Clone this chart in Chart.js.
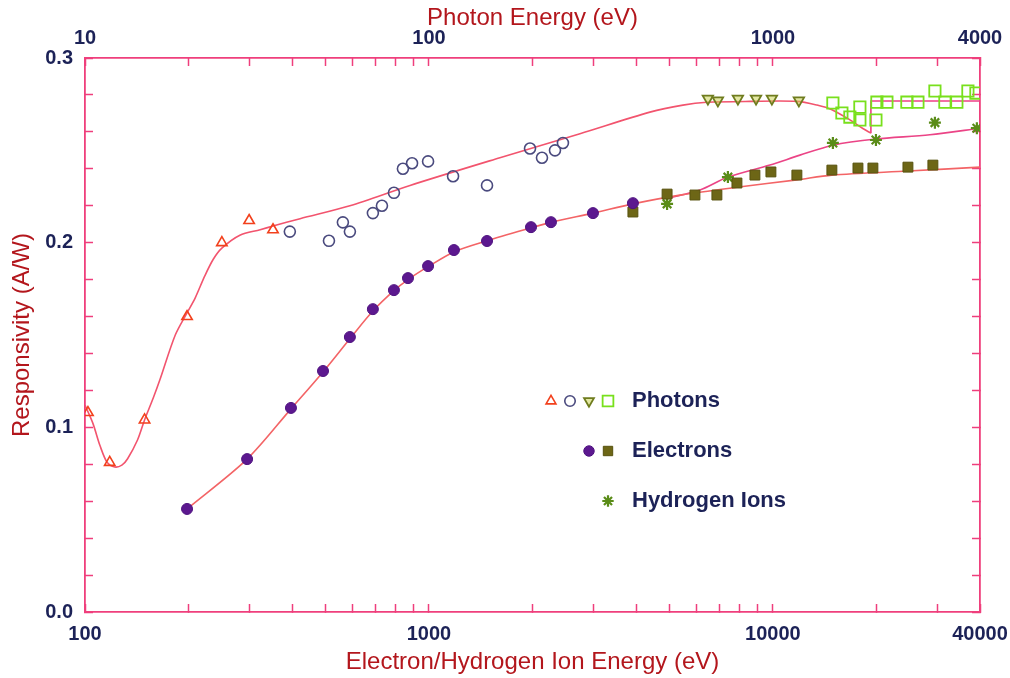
<!DOCTYPE html>
<html>
<head>
<meta charset="utf-8">
<title>Responsivity</title>
<script src="https://cdn.jsdelivr.net/npm/chart.js@4.4.1/dist/chart.umd.min.js"></script>
<style>
  html, body { margin: 0; padding: 0; background: #fff; }
  #wrap { width: 1010px; height: 678px; }
</style>
</head>
<body>
<div id="wrap"><canvas id="respChart" width="1010" height="678"></canvas></div>
<script>
// Eixos: energia do eletron/ion (baixo) e do foton (topo)
const electronTicks = [100, 200, 300, 400, 500, 600, 700, 800, 900, 1000, 2000, 3000, 4000, 5000, 6000, 7000, 8000, 9000, 10000, 20000, 30000, 40000];
const electronLabels = [100, 1000, 10000, 40000];
const photonTicks = [10, 20, 30, 40, 50, 60, 70, 80, 90, 100, 200, 300, 400, 500, 600, 700, 800, 900, 1000, 2000, 3000, 4000];
const photonLabels = [10, 100, 1000, 4000];
const respLabels = ['0.0', '0.1', '0.2', '0.3'];

// Fotons (energia na escala de baixo = foton x 10)
const triE = [102, 118, 149, 198, 250, 300, 352];
const triR = [0.108, 0.081, 0.104, 0.160, 0.200, 0.212, 0.207];
const circE = [394, 512, 562, 589, 687, 730, 791, 840, 893, 994, 1175, 1475, 1967, 2131, 2325, 2452];
const circR = [0.206, 0.201, 0.211, 0.206, 0.216, 0.220, 0.227, 0.240, 0.243, 0.244, 0.236, 0.231, 0.251, 0.246, 0.250, 0.254];
const dtriE = [6470, 6920, 7910, 8930, 9930, 11900];
const dtriR = [0.278, 0.277, 0.278, 0.278, 0.278, 0.277];
const sqE = [14940, 15870, 16740, 17900, 17900, 19930, 20060, 21450, 24520, 26400, 29580, 31620, 34260, 36890, 38920];
const sqR = [0.2756, 0.2702, 0.2680, 0.2734, 0.2664, 0.2664, 0.2761, 0.2761, 0.2761, 0.2761, 0.2821, 0.2761, 0.2761, 0.2821, 0.2810];

// Eletrons
const hexE = [198, 296, 397, 492, 589, 687, 791, 869, 994, 1182, 1475, 1980, 2263, 2998, 3917];
const hexR = [0.0558, 0.0828, 0.1105, 0.1305, 0.1489, 0.1640, 0.1743, 0.1808, 0.1873, 0.1960, 0.2009, 0.2084, 0.2111, 0.2160, 0.2214];
const elSqE = [3917, 4924, 5933, 6873, 7859, 8865, 9867, 11740, 14840, 17670, 19530, 24690, 29180];
const elSqR = [0.2166, 0.2263, 0.2258, 0.2258, 0.2323, 0.2366, 0.2383, 0.2366, 0.2393, 0.2404, 0.2404, 0.2409, 0.2420];

// Ions de hidrogenio
const hE = [4924, 7398, 14940, 19930, 29580, 39170];
const hR = [0.221, 0.2355, 0.254, 0.2556, 0.265, 0.262];

// Curvas ajustadas
const photonFitE = [100, 105.5, 110.6, 116, 122, 128, 133, 142, 149, 158, 165, 183, 198, 209, 223, 236, 250, 282, 323, 352, 422, 589, 881, 1608, 2748, 4389, 5475, 6430, 8574, 11740, 13430, 14840, 16740, 18260, 19270];
const photonFitR = [0.112, 0.102, 0.090, 0.081, 0.0785, 0.0795, 0.083, 0.093, 0.104, 0.116, 0.1256, 0.150, 0.162, 0.170, 0.182, 0.191, 0.197, 0.204, 0.207, 0.209, 0.213, 0.220, 0.231, 0.246, 0.259, 0.2707, 0.2745, 0.276, 0.2765, 0.2765, 0.2745, 0.272, 0.2665, 0.2618, 0.2593];
const photonEdgeE = [19270, 19270, 40000];
const photonEdgeR = [0.2593, 0.2767, 0.2767];
const electronFitE = [198, 296, 397, 492, 589, 687, 791, 869, 994, 1182, 1475, 1980, 2263, 2998, 3917, 5475, 7859, 11740, 14840, 24690, 40000];
const electronFitR = [0.0558, 0.0828, 0.110, 0.130, 0.148, 0.163, 0.174, 0.180, 0.187, 0.195, 0.201, 0.208, 0.211, 0.216, 0.221, 0.226, 0.230, 0.234, 0.2366, 0.2388, 0.2409];
const hydrogenFitE = [4924, 6135, 7398, 9800, 11980, 14940, 19930, 28600, 40000];
const hydrogenFitR = [0.224, 0.2285, 0.2355, 0.242, 0.2474, 0.2528, 0.2561, 0.2584, 0.262];

const AXIS_PINK = '#ef3f7c';
const NAVY = '#1c2257';
const TITLE_RED = '#b3161c';
const FONT = "'Liberation Sans', Arial, Helvetica, sans-serif";

Chart.defaults.font.family = FONT;

function pts(xs, ys) {
    return xs.map((x, i) => ({ x: x, y: ys[i] }));
}

function markerSet(label, xs, ys, style) {
    return {
        label: label,
        data: pts(xs, ys),
        showLine: false,
        order: 1,
        pointStyle: style.shape,
        pointRotation: style.rotation || 0,
        pointRadius: style.radius,
        pointBorderWidth: style.width,
        pointBorderColor: style.stroke,
        pointBackgroundColor: style.fill,
        borderColor: style.stroke,
        backgroundColor: style.fill
    };
}

function curveSet(label, xs, ys, color, tension) {
    return {
        label: label,
        data: pts(xs, ys),
        showLine: true,
        order: 2,
        pointRadius: 0,
        borderColor: color,
        borderWidth: 1.6,
        tension: tension,
        fill: false
    };
}

const datasets = [
    markerSet('Photons △', triE, triR, { shape: 'triangle', radius: 6, width: 1.6, stroke: '#f2401c', fill: 'rgba(255,255,255,0)' }),
    markerSet('Photons ○', circE, circR, { shape: 'circle', radius: 5.5, width: 1.6, stroke: '#4a4a7e', fill: 'rgba(255,255,255,0)' }),
    markerSet('Photons ▽', dtriE, dtriR, { shape: 'triangle', rotation: 180, radius: 6, width: 1.8, stroke: '#6f7c1e', fill: 'rgba(200,210,70,0.5)' }),
    markerSet('Photons □', sqE, sqR, { shape: 'rect', radius: 8, width: 1.8, stroke: '#78e01c', fill: 'rgba(255,255,255,0)' }),
    markerSet('Electrons ●', hexE, hexR, { shape: 'circle', radius: 5.5, width: 1, stroke: '#4e1280', fill: '#5c188f' }),
    markerSet('Electrons ■', elSqE, elSqR, { shape: 'rect', radius: 7, width: 1, stroke: '#57520e', fill: '#6d6616' }),
    markerSet('Hydrogen Ions', hE, hR, { shape: 'star', radius: 6, width: 2.2, stroke: '#5a8c18', fill: '#5a8c18' }),
    curveSet('Photon fit', photonFitE, photonFitR, '#f2546e', 0.3),
    curveSet('Photon edge', photonEdgeE, photonEdgeR, '#ee3f86', 0),
    curveSet('Electron fit', electronFitE, electronFitR, '#f36466', 0.3),
    curveSet('Hydrogen fit', hydrogenFitE, hydrogenFitR, '#eb4486', 0.3)
];

// Legenda: varios simbolos por linha
const legendRows = [
    { text: 'Photons', sets: [0, 1, 2, 3] },
    { text: 'Electrons', sets: [4, 5] },
    { text: 'Hydrogen Ions', sets: [6] }
];

const groupLegend = {
    id: 'groupLegend',
    afterDraw(chart) {
        const ctx = chart.ctx;
        const textX = 632, firstY = 401, rowGap = 50, step = 19, lastMarkerX = 608;
        ctx.save();
        legendRows.forEach((row, r) => {
            const y = firstY + r * rowGap;
            row.sets.forEach((idx, k) => {
                const ds = chart.data.datasets[idx];
                const x = lastMarkerX - (row.sets.length - 1 - k) * step;
                ctx.fillStyle = ds.pointBackgroundColor;
                ctx.strokeStyle = ds.pointBorderColor;
                ctx.lineWidth = ds.pointBorderWidth;
                Chart.helpers.drawPoint(ctx, {
                    pointStyle: ds.pointStyle,
                    rotation: ds.pointRotation,
                    radius: ds.pointRadius * 0.95,
                    borderWidth: ds.pointBorderWidth
                }, x, y);
            });
            ctx.fillStyle = NAVY;
            ctx.font = 'bold 22px ' + FONT;
            ctx.textAlign = 'left';
            ctx.textBaseline = 'middle';
            ctx.fillText(row.text, textX, y);
        });
        ctx.restore();
    }
};

function tickGrid() {
    return {
        drawOnChartArea: false,
        drawTicks: true,
        tickLength: -8,
        tickColor: AXIS_PINK,
        tickWidth: 1.5
    };
}

// sem folga extra para os rotulos das pontas
function fixBox(size) {
    return (s) => {
        if (s.isHorizontal()) s.height = size; else s.width = size;
        s.paddingLeft = 0;
        s.paddingRight = 0;
        s.paddingTop = 0;
        s.paddingBottom = 0;
    };
}

const tickFont = { size: 20, weight: 'bold' };
const titleFont = { size: 24, weight: 'normal' };

new Chart(document.getElementById('respChart'), {
    type: 'scatter',
    data: { datasets: datasets },
    options: {
        responsive: false,
        animation: false,
        layout: { padding: 0 },
        plugins: {
            legend: { display: false },
            tooltip: { enabled: false }
        },
        scales: {
            x: {
                type: 'logarithmic',
                position: 'bottom',
                min: 100,
                max: 40000,
                afterBuildTicks: (s) => { s.ticks = electronTicks.map(v => ({ value: v })); },
                afterFit: fixBox(66),
                ticks: {
                    autoSkip: false,
                    maxRotation: 0,
                    padding: 18,
                    color: NAVY,
                    font: tickFont,
                    callback: (v) => electronLabels.includes(v) ? String(v) : ''
                },
                grid: tickGrid(),
                border: { display: true, color: AXIS_PINK, width: 1.8 },
                title: {
                    display: true,
                    text: 'Electron/Hydrogen Ion Energy (eV)',
                    color: TITLE_RED,
                    font: titleFont,
                    padding: { top: 0, bottom: 1 }
                }
            },
            x2: {
                type: 'logarithmic',
                position: 'top',
                min: 10,
                max: 4000,
                afterBuildTicks: (s) => { s.ticks = photonTicks.map(v => ({ value: v })); },
                afterFit: fixBox(58),
                ticks: {
                    autoSkip: false,
                    maxRotation: 0,
                    padding: 16,
                    color: NAVY,
                    font: tickFont,
                    callback: (v) => photonLabels.includes(v) ? String(v) : ''
                },
                grid: tickGrid(),
                border: { display: true, color: AXIS_PINK, width: 1.8 },
                title: {
                    display: true,
                    text: 'Photon Energy (eV)',
                    color: TITLE_RED,
                    font: titleFont,
                    padding: { top: 4, bottom: 0 }
                }
            },
            y: {
                type: 'linear',
                position: 'left',
                min: 0,
                max: 0.3,
                afterFit: fixBox(85),
                ticks: {
                    stepSize: 0.02,
                    padding: 20,
                    color: NAVY,
                    font: tickFont,
                    callback: (v) => {
                        const k = Math.round(v * 10);
                        return Math.abs(v * 10 - k) < 1e-6 ? respLabels[k] : '';
                    }
                },
                grid: tickGrid(),
                border: { display: true, color: AXIS_PINK, width: 1.8 },
                title: {
                    display: true,
                    text: 'Responsivity (A/W)',
                    color: TITLE_RED,
                    font: titleFont,
                    padding: { top: 8, bottom: 0 }
                }
            },
            y2: {
                type: 'linear',
                position: 'right',
                min: 0,
                max: 0.3,
                afterFit: fixBox(30),
                ticks: { stepSize: 0.02, display: false },
                grid: tickGrid(),
                border: { display: true, color: AXIS_PINK, width: 1.8 }
            }
        }
    },
    plugins: [groupLegend]
});
</script>
</body>
</html>
